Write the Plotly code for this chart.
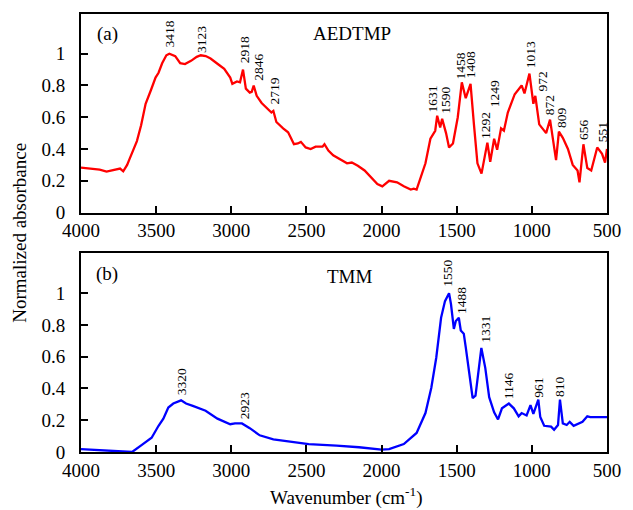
import plotly.graph_objects as go

# ---------------- data ----------------
aedtmp_wn = [4000, 3940, 3876, 3830, 3780, 3740, 3719, 3693, 3680, 3660, 3628, 3600, 3570, 3535, 3504,
             3484, 3460, 3432, 3412, 3373, 3340, 3308, 3268, 3230, 3203, 3170, 3138, 3090, 3047, 3007,
             2993, 2962, 2942, 2922, 2903, 2877, 2864, 2851, 2831, 2798, 2753, 2733, 2720, 2700, 2655,
             2622, 2603, 2583, 2557, 2537, 2505, 2472, 2439, 2393, 2380, 2354, 2322, 2276, 2230, 2198,
             2158, 2113, 2067, 2028, 1995, 1950, 1897, 1852, 1806, 1786, 1767, 1741, 1708, 1675, 1643,
             1630, 1610, 1597, 1571, 1551, 1525, 1493, 1466, 1440, 1408, 1385, 1362, 1335, 1296, 1277,
             1251, 1231, 1205, 1186, 1160, 1114, 1068, 1049, 1016, 990, 977, 951, 905, 879, 839,
             820, 794, 760, 728, 696, 683, 657, 631, 605, 565, 533, 513, 500]
aedtmp_abs = [0.283, 0.275, 0.270, 0.258, 0.268, 0.277, 0.260, 0.300, 0.330, 0.380, 0.450, 0.550, 0.685, 0.770, 0.850,
              0.880, 0.940, 0.990, 1.000, 0.985, 0.940, 0.935, 0.955, 0.980, 0.990, 0.985, 0.970, 0.935, 0.905, 0.850,
              0.810, 0.825, 0.820, 0.900, 0.780, 0.755, 0.760, 0.800, 0.735, 0.690, 0.650, 0.630, 0.640, 0.570, 0.530,
              0.505, 0.470, 0.430, 0.435, 0.445, 0.410, 0.400, 0.415, 0.415, 0.430, 0.390, 0.360, 0.335, 0.310, 0.315,
              0.295, 0.265, 0.220, 0.180, 0.165, 0.200, 0.190, 0.165, 0.145, 0.150, 0.145, 0.215, 0.310, 0.465, 0.515,
              0.610, 0.535, 0.590, 0.500, 0.410, 0.435, 0.600, 0.820, 0.720, 0.810, 0.550, 0.310, 0.245, 0.440, 0.320,
              0.465, 0.395, 0.530, 0.515, 0.630, 0.745, 0.800, 0.750, 0.875, 0.685, 0.735, 0.555, 0.500, 0.585, 0.330,
              0.510, 0.470, 0.400, 0.300, 0.265, 0.190, 0.430, 0.280, 0.265, 0.410, 0.370, 0.315, 0.400]

tmm_wn = [4000, 3876, 3765, 3660, 3595, 3530, 3484, 3452, 3419, 3386, 3334, 3301, 3256, 3171, 3092,
          3007, 2975, 2929, 2877, 2811, 2720, 2616, 2485, 2300, 2150, 2000, 1950, 1852, 1767, 1708,
          1669, 1636, 1604, 1578, 1551, 1538, 1519, 1506, 1486, 1473, 1453, 1440, 1414, 1394, 1375,
          1349, 1336, 1310, 1284, 1251, 1225, 1199, 1153, 1120, 1088, 1068, 1035, 1009, 990, 957,
          944, 918, 872, 852, 826, 813, 794, 768, 748, 722, 663, 631, 611, 500]
tmm_abs = [0.018, 0.013, 0.005, 0.000, 0.045, 0.090, 0.165, 0.210, 0.280, 0.305, 0.325, 0.305, 0.290, 0.260, 0.210,
           0.175, 0.180, 0.180, 0.150, 0.105, 0.080, 0.065, 0.050, 0.040, 0.030, 0.015, 0.018, 0.050, 0.120, 0.245,
           0.405, 0.595, 0.845, 0.950, 1.000, 0.930, 0.775, 0.825, 0.845, 0.765, 0.745, 0.660, 0.490, 0.340, 0.355,
           0.555, 0.655, 0.530, 0.345, 0.250, 0.205, 0.275, 0.305, 0.275, 0.225, 0.245, 0.230, 0.295, 0.240, 0.330,
           0.220, 0.165, 0.160, 0.140, 0.170, 0.330, 0.180, 0.170, 0.190, 0.165, 0.190, 0.225, 0.220, 0.220]

a_labels = ["3418", "3123", "2918", "2846", "2719", "1631", "1590", "1458", "1408", "1292", "1249",
            "1013", "972", "872", "809", "656", "551"]
a_label_x = [3412, 3197, 2916, 2818, 2714, 1662, 1571, 1473, 1408, 1310, 1251, 1009, 931, 885, 807, 657, 533]
a_label_y = [1.123, 1.091, 1.028, 0.915, 0.764, 0.714, 0.704, 0.925, 0.931, 0.547, 0.745, 0.994, 0.827,
             0.676, 0.600, 0.522, 0.506]

b_labels = ["3320", "2923", "1550", "1488", "1331", "1146", "961", "810"]
b_label_x = [3334, 2916, 1558, 1473, 1310, 1153, 957, 813]
b_label_y = [0.440, 0.294, 1.122, 0.956, 0.772, 0.419, 0.406, 0.416]

x_ticks = [4000, 3500, 3000, 2500, 2000, 1500, 1000, 500]
y_ticks = [0, 0.2, 0.4, 0.6, 0.8, 1]

FONT = "Liberation Serif, Times New Roman, serif"

fig = go.Figure()
fig.add_trace(go.Scatter(x=aedtmp_wn, y=aedtmp_abs, mode="lines",
                         line=dict(color="#ff0000", width=2.3), xaxis="x", yaxis="y", showlegend=False))
fig.add_trace(go.Scatter(x=tmm_wn, y=tmm_abs, mode="lines",
                         line=dict(color="#0000ff", width=2.3), xaxis="x2", yaxis="y2", showlegend=False))

xa = dict(range=[4000, 500], tickvals=x_ticks, ticks="inside", ticklen=7, tickwidth=1.5,
          tickcolor="black", showline=True, linecolor="black", linewidth=2, mirror=True,
          showgrid=False, zeroline=False, tickfont=dict(family=FONT, size=19, color="black"))
ya = dict(range=[0, 1.25], tickvals=y_ticks, ticks="inside", ticklen=7, tickwidth=1.5,
          tickcolor="black", showline=True, linecolor="black", linewidth=2, mirror=True,
          showgrid=False, zeroline=False, tickfont=dict(family=FONT, size=19, color="black"),
          ticklabelstandoff=10)

fig.update_layout(
    width=633, height=510,
    margin=dict(l=81, r=16, t=13, b=58),
    plot_bgcolor="white", paper_bgcolor="white",
    xaxis=dict(xa, domain=[0, 1], anchor="y"),
    yaxis=dict(ya, domain=[0.5467, 1], anchor="x"),
    xaxis2=dict(xa, domain=[0, 1], anchor="y2"),
    yaxis2=dict(ya, domain=[0, 0.4533], anchor="x2"),
    font=dict(family=FONT, color="black"),
)

anns = []
for t, x, y in zip(a_labels, a_label_x, a_label_y):
    anns.append(dict(text=t, x=x, y=y, xref="x", yref="y", textangle=-90, showarrow=False,
                     xanchor="center", yanchor="middle", font=dict(family=FONT, size=13.5, color="black")))
for t, x, y in zip(b_labels, b_label_x, b_label_y):
    anns.append(dict(text=t, x=x, y=y, xref="x2", yref="y2", textangle=-90, showarrow=False,
                     xanchor="center", yanchor="middle", font=dict(family=FONT, size=13.5, color="black")))
anns += [
    dict(text="(a)", x=3824, y=1.126, xref="x", yref="y", showarrow=False,
         xanchor="center", yanchor="middle", font=dict(family=FONT, size=19, color="black")),
    dict(text="AEDTMP", x=2198, y=1.13, xref="x", yref="y", showarrow=False,
         xanchor="center", yanchor="middle", font=dict(family=FONT, size=19, color="black")),
    dict(text="(b)", x=3824, y=1.119, xref="x2", yref="y2", showarrow=False,
         xanchor="center", yanchor="middle", font=dict(family=FONT, size=19, color="black")),
    dict(text="TMM", x=2211, y=1.106, xref="x2", yref="y2", showarrow=False,
         xanchor="center", yanchor="middle", font=dict(family=FONT, size=19, color="black")),
    dict(text="Normalized absorbance", x=-0.1175, y=0.501, xref="paper", yref="paper",
         textangle=-90, showarrow=False, xanchor="center", yanchor="middle",
         font=dict(family=FONT, size=19, color="black")),
    dict(text="Wavenumber (cm<sup>-1</sup>)", x=0.5056, y=-0.1025, xref="paper", yref="paper",
         showarrow=False, xanchor="center", yanchor="middle",
         font=dict(family=FONT, size=19, color="black")),
]
fig.update_layout(annotations=anns)

fig.write_html("out.html", config={"displayModeBar": False},
               post_script="document.body.style.margin='0';")
